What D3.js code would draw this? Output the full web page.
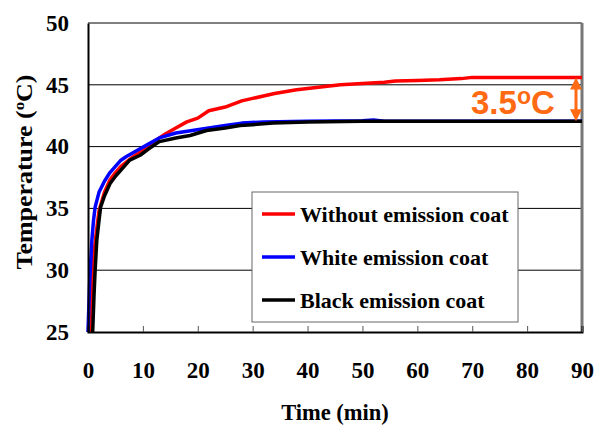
<!DOCTYPE html>
<html>
<head>
<meta charset="utf-8">
<script src="https://cdn.jsdelivr.net/npm/d3@7"></script>
<style>
  body { margin: 0; background: #fff; }
  svg { display: block; }
</style>
</head>
<body>
<svg id="chart" width="595" height="426"></svg>
<script>
// Data
var xTicks = [0, 10, 20, 30, 40, 50, 60, 70, 80, 90];
var yTicks = [25, 30, 35, 40, 45, 50];
var seriesNames = ["Without emission coat", "White emission coat", "Black emission coat"];
var seriesColors = ["#ff0000", "#0000ff", "#000000"];

var redTime = [0.3, 0.6, 1, 1.5, 2, 3, 4, 5, 6, 8, 10, 12, 14, 16, 18, 20, 22, 25, 28, 30, 34, 38, 42, 46, 50, 54, 56, 60, 64, 68, 70, 80, 90];
var redTemp = [25, 28, 31, 33, 34.8, 36.3, 37.3, 37.9, 38.4, 39.1, 39.7, 40.4, 41, 41.5, 42, 42.3, 42.9, 43.2, 43.7, 43.9, 44.3, 44.6, 44.8, 45.0, 45.1, 45.2, 45.3, 45.35, 45.4, 45.5, 45.6, 45.6, 45.6];

var blueTime = [0, 0.3, 0.7, 1, 1.3, 2, 3, 4, 5, 6, 7, 9, 11, 13, 16, 19, 22, 25, 28, 32, 40, 50, 52, 54, 90];
var blueTemp = [25, 29, 32.4, 34, 35.1, 36.3, 37.2, 37.9, 38.4, 38.9, 39.2, 39.7, 40.2, 40.7, 41.1, 41.3, 41.5, 41.7, 41.9, 42.0, 42.05, 42.1, 42.15, 42.05, 42.05];

var blackTime = [0.85, 1.1, 1.3, 1.6, 2, 2.3, 3, 4, 5, 6, 7.6, 9.5, 11, 13, 16, 18.6, 21.6, 25, 27.7, 33.7, 40, 50, 90];
var blackTemp = [25, 28, 30, 32.4, 34, 35.1, 36, 37, 37.6, 38.1, 38.9, 39.3, 39.8, 40.4, 40.7, 40.9, 41.3, 41.5, 41.7, 41.9, 42.0, 42.05, 42.05];

// Annotated gap between the plateaus
var gapLow = 42.05, gapHigh = 45.6;
var gapLabel = "3.5";

var svg = d3.select("#chart");
var font = "'Liberation Serif', 'Times New Roman', serif";

var x = d3.scaleLinear().domain([0, 90]).range([88, 582]);
var y = d3.scaleLinear().domain([25, 50]).range([332, 23]);

// Horizontal gridlines
svg.append("g")
    .selectAll("line")
    .data(yTicks.slice(1))
    .enter()
    .append("line")
    .attr("x1", x(0)).attr("x2", x(90))
    .attr("y1", d => y(d)).attr("y2", d => y(d))
    .attr("stroke", "#000").attr("stroke-width", 1);

// Right border (grey)
svg.append("line")
    .attr("x1", x(90)).attr("x2", x(90))
    .attr("y1", y(50)).attr("y2", y(25))
    .attr("stroke", "#777").attr("stroke-width", 3);

// Lines
var line = d3.line()
    .x(d => x(d[0]))
    .y(d => y(d[1]));

var series = [
    d3.zip(redTime, redTemp),
    d3.zip(blueTime, blueTemp),
    d3.zip(blackTime, blackTemp)
];

svg.append("g")
    .selectAll("path")
    .data(series)
    .enter()
    .append("path")
    .attr("fill", "none")
    .attr("stroke", (d, i) => seriesColors[i])
    .attr("stroke-width", 3.5)
    .attr("stroke-linejoin", "round")
    .attr("d", line);

// X axis (ticks point inward)
var xAxis = d3.axisBottom(x)
    .tickValues(xTicks)
    .tickSize(-6)
    .tickPadding(30)
    .tickFormat(d3.format("d"));

svg.append("g")
    .attr("transform", "translate(0," + y(25) + ")")
    .call(xAxis)
    .call(g => g.select(".domain").attr("stroke", "#000").attr("stroke-width", 2))
    .call(g => g.selectAll(".tick line").attr("stroke", "#555"))
    .call(g => g.selectAll(".tick text")
        .attr("font-family", font)
        .attr("font-weight", "bold")
        .attr("font-size", "23px")
        .attr("fill", "#000"));

// Y axis
var yAxis = d3.axisLeft(y)
    .tickValues(yTicks)
    .tickSize(0)
    .tickPadding(19)
    .tickFormat(d3.format("d"));

svg.append("g")
    .attr("transform", "translate(" + x(0) + ",0)")
    .call(yAxis)
    .call(g => g.select(".domain").attr("stroke", "#000").attr("stroke-width", 2))
    .call(g => g.selectAll(".tick text")
        .attr("font-family", font)
        .attr("font-weight", "bold")
        .attr("font-size", "23px")
        .attr("fill", "#000"));

// Axis titles
svg.append("text")
    .attr("x", 335)
    .attr("y", 420)
    .attr("text-anchor", "middle")
    .attr("font-family", font)
    .attr("font-weight", "bold")
    .attr("font-size", "22.5px")
    .text("Time (min)");

var yTitle = svg.append("text")
    .attr("transform", "translate(32,172) rotate(-90)")
    .attr("text-anchor", "middle")
    .attr("font-family", font)
    .attr("font-weight", "bold")
    .attr("font-size", "23px")
    .attr("textLength", 195)
    .attr("lengthAdjust", "spacingAndGlyphs");
yTitle.append("tspan").text("Temperature (");
yTitle.append("tspan").attr("dy", -8).attr("font-size", "15px").text("o");
yTitle.append("tspan").attr("dy", 8).text("C)");

// Legend
var legend = svg.append("g");
legend.append("rect")
    .attr("x", 252).attr("y", 192)
    .attr("width", 266).attr("height", 130)
    .attr("fill", "#fff")
    .attr("stroke", "#666").attr("stroke-width", 1);

var rows = legend.selectAll("g.row")
    .data(seriesNames)
    .enter()
    .append("g")
    .attr("transform", (d, i) => "translate(0," + (214 + i * 43) + ")");

rows.append("line")
    .attr("x1", 262).attr("x2", 295)
    .attr("y1", 0).attr("y2", 0)
    .attr("stroke", (d, i) => seriesColors[i])
    .attr("stroke-width", 3.5);

rows.append("text")
    .attr("x", 300)
    .attr("y", 8)
    .attr("font-family", font)
    .attr("font-weight", "bold")
    .attr("font-size", "22px")
    .text(d => d);

// Gap annotation
var ax = 576;
var orange = "#ff6a13";
svg.append("line")
    .attr("x1", ax).attr("x2", ax)
    .attr("y1", y(gapHigh) + 9).attr("y2", y(gapLow) - 9)
    .attr("stroke", orange).attr("stroke-width", 3);
svg.append("path")
    .attr("d", "M" + (ax - 6) + "," + (y(gapHigh) + 12) + "L" + ax + "," + y(gapHigh) + "L" + (ax + 6) + "," + (y(gapHigh) + 12) + "Z")
    .attr("fill", orange);
svg.append("path")
    .attr("d", "M" + (ax - 6) + "," + (y(gapLow) - 12) + "L" + ax + "," + y(gapLow) + "L" + (ax + 6) + "," + (y(gapLow) - 12) + "Z")
    .attr("fill", orange);

var ann = svg.append("text")
    .attr("x", 471)
    .attr("y", 114)
    .attr("font-family", "'Liberation Sans', Arial, sans-serif")
    .attr("font-weight", "bold")
    .attr("font-size", "33px")
    .attr("fill", orange);
ann.append("tspan").text(gapLabel);
ann.append("tspan").attr("dy", -10).attr("font-size", "23px").text("o");
ann.append("tspan").attr("dy", 10).text("C");
</script>
</body>
</html>
